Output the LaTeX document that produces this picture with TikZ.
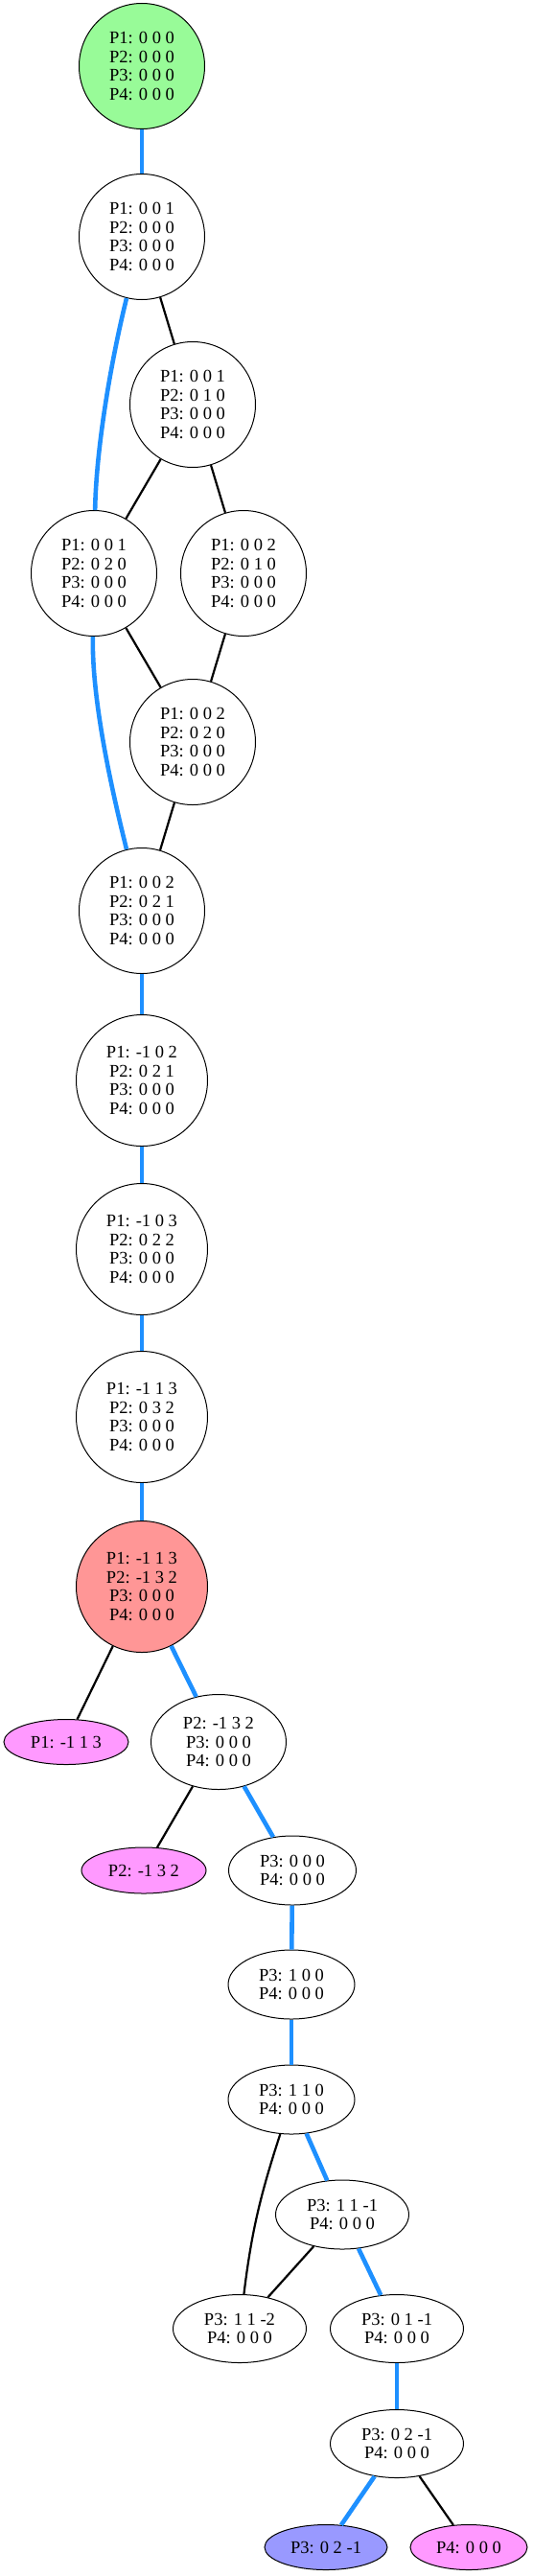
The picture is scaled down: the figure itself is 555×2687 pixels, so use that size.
\documentclass[tikz,border=0pt]{standalone}
\usepackage{fontspec}
\setmainfont{Liberation Serif}
\usetikzlibrary{shapes.geometric}
\definecolor{runblue}{HTML}{1E90FF}
\definecolor{startgreen}{HTML}{98FB98}
\definecolor{hitred}{HTML}{FF9696}
\definecolor{leafpink}{HTML}{FF99FF}
\definecolor{leafblue}{HTML}{9999FF}
\tikzset{txt/.style={font=\fontsize{18.5}{19.5}\selectfont, align=center}}
\tikzset{vert/.style={draw, circle, line width=1pt, minimum size=131pt, inner sep=0pt, fill=white, txt}}
\tikzset{wvert/.style={vert, minimum size=137pt}}
\tikzset{oval/.style={draw, ellipse, line width=1pt, inner sep=0pt, minimum width=133pt, minimum height=72pt, fill=white, txt}}
\tikzset{leaf/.style={oval, minimum width=130pt, minimum height=47pt, fill=leafpink}}
\tikzset{run/.style={runblue, line width=4.6pt}}
\tikzset{alt/.style={black, line width=2.2pt}}

\begin{document}
\begin{tikzpicture}[x=1pt, y=1pt]
\useasboundingbox (0, 0) rectangle (555, -2687);

\node (n0) [vert, fill=startgreen] at (148, -69) {P1: 0 0 0\\P2: 0 0 0\\P3: 0 0 0\\P4: 0 0 0};
\node (n1) [vert] at (148, -247) {P1: 0 0 1\\P2: 0 0 0\\P3: 0 0 0\\P4: 0 0 0};
\node (n2) [vert] at (201, -422) {P1: 0 0 1\\P2: 0 1 0\\P3: 0 0 0\\P4: 0 0 0};
\node (n3) [vert] at (98, -598) {P1: 0 0 1\\P2: 0 2 0\\P3: 0 0 0\\P4: 0 0 0};
\node (n4) [vert] at (254, -598) {P1: 0 0 2\\P2: 0 1 0\\P3: 0 0 0\\P4: 0 0 0};
\node (n5) [vert] at (201, -774) {P1: 0 0 2\\P2: 0 2 0\\P3: 0 0 0\\P4: 0 0 0};
\node (n6) [vert] at (148, -950) {P1: 0 0 2\\P2: 0 2 1\\P3: 0 0 0\\P4: 0 0 0};
\node (n7) [wvert] at (148, -1127) {P1: -1 0 2\\P2: 0 2 1\\P3: 0 0 0\\P4: 0 0 0};
\node (n8) [wvert] at (148, -1303) {P1: -1 0 3\\P2: 0 2 2\\P3: 0 0 0\\P4: 0 0 0};
\node (n9) [wvert] at (148, -1478) {P1: -1 1 3\\P2: 0 3 2\\P3: 0 0 0\\P4: 0 0 0};
\node (n10) [wvert, fill=hitred] at (148, -1655) {P1: -1 1 3\\P2: -1 3 2\\P3: 0 0 0\\P4: 0 0 0};

\node (l1) [leaf] at (69, -1817) {P1: -1 1 3};
\node (n11) [oval, minimum width=141pt, minimum height=99pt] at (228, -1817) {P2: -1 3 2\\P3: 0 0 0\\P4: 0 0 0};
\node (l2) [leaf, minimum height=48pt] at (150, -1951) {P2: -1 3 2};
\node (n12) [oval] at (305, -1951) {P3: 0 0 0\\P4: 0 0 0};
\node (n13) [oval, minimum width=132pt] at (304, -2070) {P3: 1 0 0\\P4: 0 0 0};
\node (n14) [oval, minimum width=132pt] at (304, -2190) {P3: 1 1 0\\P4: 0 0 0};
\node (n15) [oval, minimum width=139pt] at (357, -2310) {P3: 1 1 -1\\P4: 0 0 0};
\node (n16) [oval, minimum width=139pt, minimum height=71pt] at (250, -2429) {P3: 1 1 -2\\P4: 0 0 0};
\node (n17) [oval, minimum width=139pt, minimum height=71pt] at (414, -2429) {P3: 0 1 -1\\P4: 0 0 0};
\node (n18) [oval, minimum width=139pt, minimum height=71pt] at (414, -2549) {P3: 0 2 -1\\P4: 0 0 0};
\node (l3) [leaf, minimum width=128pt, fill=leafblue] at (340, -2657) {P3: 0 2 -1};
\node (l4) [leaf, minimum width=122pt] at (489, -2657) {P4: 0 0 0};

\draw[run] (n0) -- (n1);
\draw[alt] (n1) -- (n2);
\draw[run] (n1) to[out=-104, in=89, looseness=0.75] (n3);
\draw[alt] (n2) -- (n3);
\draw[alt] (n2) -- (n4);
\draw[alt] (n3) -- (n5);
\draw[alt] (n4) -- (n5);
\draw[run] (n3) to[out=-91, in=104, looseness=0.75] (n6);
\draw[alt] (n5) -- (n6);
\draw[run] (n6) -- (n7);
\draw[run] (n7) -- (n8);
\draw[run] (n8) -- (n9);
\draw[run] (n9) -- (n10);
\draw[alt] (n10) -- (l1);
\draw[run] (n10) -- (n11);
\draw[alt] (n11) -- (l2);
\draw[run] (n11) -- (n12);
\draw[run] (n12) -- (n13);
\draw[run] (n13) -- (n14);
\draw[run] (n14) -- (n15);
\draw[alt] (n14) to[out=-108, in=83] (n16);
\draw[alt] (n15) -- (n16);
\draw[run] (n15) -- (n17);
\draw[run] (n17) -- (n18);
\draw[run] (n18) -- (l3);
\draw[alt] (n18) -- (l4);
\end{tikzpicture}
\end{document}
